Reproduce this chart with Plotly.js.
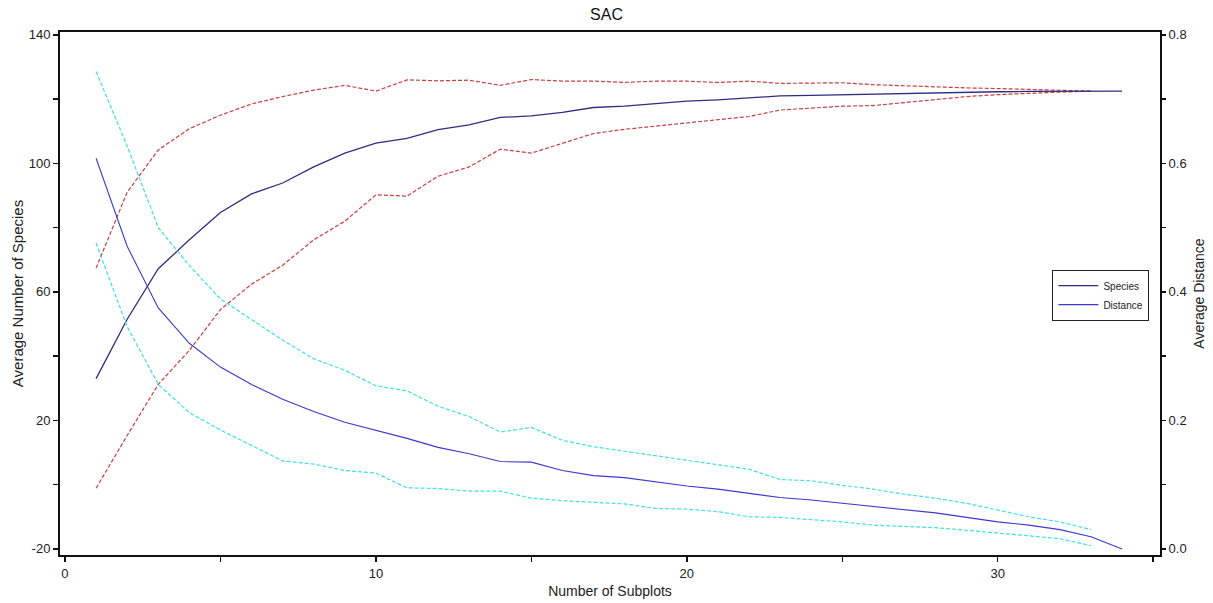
<!DOCTYPE html>
<html>
<head>
<meta charset="utf-8">
<script src="https://cdn.plot.ly/plotly-3.0.1.min.js"></script>
<style>html,body{margin:0;padding:0;background:#fff;}#chart{width:1213px;height:603px;}</style>
</head>
<body>
<div id="chart"></div>
<script>
// Number of subplots (x)
const subplots = [1,2,3,4,5,6,7,8,9,10,11,12,13,14,15,16,17,18,19,20,21,22,23,24,25,26,27,28,29,30,31,32,33,34];
const subplotsCI = [1,2,3,4,5,6,7,8,9,10,11,12,13,14,15,16,17,18,19,20,21,22,23,24,25,26,27,28,29,30,31,32,33];

// Average number of species (left axis)
const speciesMean = [33.0,51.5,67.2,76.2,84.7,90.5,93.9,98.9,103.2,106.3,107.8,110.5,112.0,114.3,114.8,115.9,117.4,117.8,118.6,119.4,119.8,120.4,121.0,121.2,121.4,121.6,121.8,122.1,122.2,122.3,122.4,122.5,122.5,122.5];
const speciesUpper = [67.4,91.0,104.2,110.8,115.0,118.5,120.8,122.8,124.3,122.5,126.0,125.7,125.9,124.3,126.1,125.6,125.6,125.2,125.6,125.6,125.2,125.6,124.9,124.9,125.1,124.5,124.1,123.8,123.5,123.3,123.0,122.8,122.5];
const speciesLower = [-1.1,15.3,31.2,41.8,54.5,62.4,68.3,76.2,82.0,90.2,89.8,96.0,98.9,104.4,103.2,106.3,109.3,110.6,111.6,112.7,113.5,114.6,116.6,117.3,117.8,118.0,119.0,119.8,120.8,121.4,121.9,122.2,122.5];

// Average distance (right axis)
const distMean = [0.608,0.471,0.375,0.320,0.283,0.256,0.233,0.214,0.197,0.185,0.172,0.158,0.148,0.136,0.135,0.122,0.114,0.111,0.104,0.098,0.093,0.087,0.080,0.076,0.071,0.065,0.061,0.056,0.049,0.042,0.037,0.030,0.019,0.0];
const distUpper = [0.743,0.627,0.500,0.441,0.389,0.357,0.325,0.296,0.278,0.254,0.246,0.222,0.206,0.182,0.189,0.169,0.159,0.152,0.145,0.137,0.130,0.124,0.108,0.106,0.099,0.093,0.085,0.079,0.071,0.061,0.050,0.042,0.030];
const distLower = [0.476,0.346,0.256,0.212,0.185,0.161,0.137,0.132,0.122,0.118,0.095,0.094,0.090,0.090,0.079,0.075,0.072,0.070,0.063,0.062,0.058,0.050,0.049,0.046,0.042,0.037,0.035,0.033,0.029,0.025,0.021,0.016,0.005];

// Tick labels
const speciesTickVals = [-20, 20, 60, 100, 140];
const speciesTickText = ['-20', '20', '60', '100', '140'];
const distTickVals = [0, 0.2, 0.4, 0.6, 0.8];
const distTickText = ['0.0', '0.2', '0.4', '0.6', '0.8'];
const xTickVals = [0, 10, 20, 30];
const xTickText = ['0', '10', '20', '30'];

const navy = '#2e2e80';
const blue = '#3a3ad0';
const red = '#c84040';
const cyan = '#3fe0e0';
const dashPat = '4px,2px';

const traces = [
  {x: subplotsCI, y: speciesUpper, type:'scatter', mode:'lines', line:{color:red, width:1.2, dash:dashPat}, showlegend:false, hoverinfo:'skip'},
  {x: subplotsCI, y: speciesLower, type:'scatter', mode:'lines', line:{color:red, width:1.2, dash:dashPat}, showlegend:false, hoverinfo:'skip'},
  {x: subplotsCI, y: distUpper, yaxis:'y2', type:'scatter', mode:'lines', line:{color:cyan, width:1.2, dash:dashPat}, showlegend:false, hoverinfo:'skip'},
  {x: subplotsCI, y: distLower, yaxis:'y2', type:'scatter', mode:'lines', line:{color:cyan, width:1.2, dash:dashPat}, showlegend:false, hoverinfo:'skip'},
  {x: subplots, y: speciesMean, name:'Species', type:'scatter', mode:'lines', line:{color:navy, width:1.3}},
  {x: subplots, y: distMean, name:'Distance', yaxis:'y2', type:'scatter', mode:'lines', line:{color:blue, width:1.1}}
];

const fontFam = 'Liberation Sans, Arial, sans-serif';
const layout = {
  width: 1213, height: 603,
  paper_bgcolor:'#fff', plot_bgcolor:'#fff',
  margin:{l:60, r:53, t:32, b:48, pad:0},
  font:{family:fontFam, size:12, color:'#222'},
  title:{text:'SAC', x:0.5, xanchor:'center', y:0.985, yanchor:'top', font:{size:16, color:'#111', family:fontFam}},
  xaxis:{
    range:[-0.16, 35.22], showgrid:false, zeroline:false,
    showline:true, linecolor:'#111', linewidth:2, mirror:true,
    ticks:'outside', ticklen:5, tickwidth:1.5, tickcolor:'#111',
    tickmode:'array', tickvals:xTickVals, ticktext:xTickText,
    minor:{ticks:'outside', ticklen:5, tickwidth:1.5, tickcolor:'#111', dtick:5, tick0:0, showgrid:false},
    tickfont:{size:13, color:'#222'},
    title:{text:'Number of Subplots', font:{size:14, color:'#222'}, standoff:7}
  },
  yaxis:{
    range:[-21.9, 140.9], showgrid:false, zeroline:false,
    showline:true, linecolor:'#111', linewidth:2, mirror:true,
    ticks:'outside', ticklen:5, tickwidth:1.5, tickcolor:'#111',
    tickmode:'array', tickvals:speciesTickVals, ticktext:speciesTickText,
    minor:{ticks:'outside', ticklen:5, tickwidth:1.5, tickcolor:'#111', dtick:20, tick0:-20, showgrid:false},
    tickfont:{size:13, color:'#222'},
    title:{text:'Average Number of Species', font:{size:15, color:'#222'}, standoff:1}
  },
  yaxis2:{
    overlaying:'y', side:'right',
    range:[-0.0095, 0.8045], showgrid:false, zeroline:false,
    showline:false,
    ticks:'outside', ticklen:5, tickwidth:1.5, tickcolor:'#111',
    tickmode:'array', tickvals:distTickVals, ticktext:distTickText,
    minor:{ticks:'outside', ticklen:5, tickwidth:1.5, tickcolor:'#111', dtick:0.1, tick0:0, showgrid:false},
    tickfont:{size:13, color:'#222'},
    title:{text:'Average Distance', font:{size:14, color:'#222'}, standoff:8}
  },
  legend:{
    x:0.902, y:0.545, xanchor:'left', yanchor:'top',
    bgcolor:'#fff', bordercolor:'#222', borderwidth:1.2,
    font:{size:10, color:'#222'},
    tracegroupgap:0, itemwidth:40
  },
  showlegend:true
};

Plotly.newPlot('chart', traces, layout, {displayModeBar:false, staticPlot:true});
</script>
</body>
</html>
